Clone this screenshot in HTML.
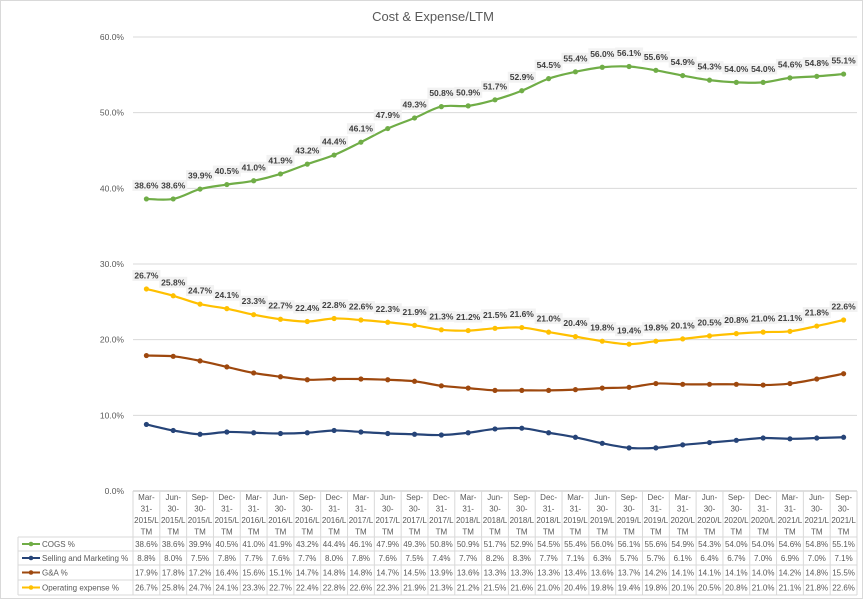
<!DOCTYPE html>
<html><head><meta charset="utf-8"><style>
body{margin:0;background:#fff;font-family:"Liberation Sans",Arial,sans-serif}
svg{display:block}
</style></head><body>
<svg id="chart" width="867" height="600" viewBox="0 0 867 600" xmlns="http://www.w3.org/2000/svg">
<rect x="0.5" y="0.5" width="862" height="598" fill="#fff" stroke="#d9d9d9"/>
<text x="433" y="21" text-anchor="middle" font-size="13" fill="#595959">Cost &amp; Expense/LTM</text>
<g id="grid"></g><g id="table"></g><g id="series"></g><g id="labels"></g>
</svg>
<script>
const categories=["Mar-31-2015","Jun-30-2015","Sep-30-2015","Dec-31-2015","Mar-31-2016","Jun-30-2016","Sep-30-2016","Dec-31-2016","Mar-31-2017","Jun-30-2017","Sep-30-2017","Dec-31-2017","Mar-31-2018","Jun-30-2018","Sep-30-2018","Dec-31-2018","Mar-31-2019","Jun-30-2019","Sep-30-2019","Dec-31-2019","Mar-31-2020","Jun-30-2020","Sep-30-2020","Dec-31-2020","Mar-31-2021","Jun-30-2021","Sep-30-2021"];
const cogs=[38.6,38.6,39.9,40.5,41.0,41.9,43.2,44.4,46.1,47.9,49.3,50.8,50.9,51.7,52.9,54.5,55.4,56.0,56.1,55.6,54.9,54.3,54.0,54.0,54.6,54.8,55.1];
const sm=[8.8,8.0,7.5,7.8,7.7,7.6,7.7,8.0,7.8,7.6,7.5,7.4,7.7,8.2,8.3,7.7,7.1,6.3,5.7,5.7,6.1,6.4,6.7,7.0,6.9,7.0,7.1];
const ga=[17.9,17.8,17.2,16.4,15.6,15.1,14.7,14.8,14.8,14.7,14.5,13.9,13.6,13.3,13.3,13.3,13.4,13.6,13.7,14.2,14.1,14.1,14.1,14.0,14.2,14.8,15.5];
const opex=[26.7,25.8,24.7,24.1,23.3,22.7,22.4,22.8,22.6,22.3,21.9,21.3,21.2,21.5,21.6,21.0,20.4,19.8,19.4,19.8,20.1,20.5,20.8,21.0,21.1,21.8,22.6];
const yTicks=[0,10,20,30,40,50,60];
const seriesNames=["COGS %","Selling and Marketing %","G&A %","Operating expense %"];

const NS="http://www.w3.org/2000/svg";
const X0=133,X1=857,Y0=491,Y60=37;
const cw=(X1-X0)/categories.length;
const xs=i=>X0+cw*(i+0.5);
const ys=v=>Y0-(v/60)*(Y0-Y60);
function mk(p,t,a){const e=document.createElementNS(NS,t);for(const k in a)e.setAttribute(k,a[k]);p.appendChild(e);return e;}
const grid=document.getElementById('grid');
yTicks.forEach(t=>{
 const l=mk(grid,'line',{x1:X0,x2:X1,y1:ys(t),y2:ys(t),stroke:t===0?'#bfbfbf':'#d9d9d9'});
 
 
 const tx=mk(grid,'text',{x:124,y:ys(t)+3,'text-anchor':'end','font-size':'8.5',fill:'#595959'});
 tx.textContent=t.toFixed(1)+'%';
 
 
});
const series=[{d:cogs,c:'#70AD47',lab:true},{d:sm,c:'#264478'},{d:ga,c:'#9E480E'},{d:opex,c:'#FFC000',lab:true}];
const sg=document.getElementById('series'),lg=document.getElementById('labels');
function smooth(pts){let d='M'+pts[0][0]+','+pts[0][1];for(let i=0;i<pts.length-1;i++){const p0=pts[i-1]||pts[i],p1=pts[i],p2=pts[i+1],p3=pts[i+2]||p2;const t=1/6;d+=' C'+(p1[0]+(p2[0]-p0[0])*t)+','+(p1[1]+(p2[1]-p0[1])*t)+' '+(p2[0]-(p3[0]-p1[0])*t)+','+(p2[1]-(p3[1]-p1[1])*t)+' '+p2[0]+','+p2[1];}return d;}
series.forEach((s,si)=>{
 const pts=s.d.map((v,i)=>[xs(i),ys(v)]);
 const p=mk(sg,'path',{d:smooth(pts),fill:'none',stroke:s.c,'stroke-width':2.2});
 
 
 pts.forEach((q,i)=>{
  const c=mk(sg,'circle',{cx:q[0],cy:q[1],r:2.6,fill:s.c});
  
  
  if(s.lab){
   const txt=s.d[i].toFixed(1)+'%';
   mk(lg,'rect',{x:q[0]-14,y:q[1]-19,width:28,height:11,fill:'#f2f2f2'});
   const t=mk(lg,'text',{x:q[0],y:q[1]-10.5,'text-anchor':'middle','font-size':'8.5','font-weight':'bold',fill:'#404040'});
   t.textContent=txt;
   
   
  }
 });
});
// data table
const tb=document.getElementById('table');
const rowY=[537,551,565,580,595];
const hdrTop=491;
mk(tb,'line',{x1:X0,x2:X0,y1:hdrTop,y2:rowY[4],stroke:'#d9d9d9'});
for(let i=0;i<=categories.length;i++){mk(tb,'line',{x1:X0+cw*i,x2:X0+cw*i,y1:hdrTop,y2:rowY[4],stroke:'#d9d9d9'});}
rowY.forEach(y=>mk(tb,'line',{x1:18,x2:X1,y1:y,y2:y,stroke:'#d9d9d9'}));
mk(tb,'line',{x1:18,x2:18,y1:rowY[0],y2:rowY[4],stroke:'#d9d9d9'});
categories.forEach((c,i)=>{
 const parts=c.split('-');
 const lines=[parts[0]+'-',parts[1]+'-',parts[2]+'/L','TM'];
 lines.forEach((l,k)=>{
  const t=mk(tb,'text',{x:xs(i),y:500+k*11.5,'text-anchor':'middle','font-size':'8',fill:'#595959'});
  t.textContent=l;
  
  
 });
});
const all=[cogs,sm,ga,opex];
all.forEach((arr,r)=>{
 const cy=(rowY[r]+rowY[r+1])/2+3;
 mk(tb,'line',{x1:22,x2:40,y1:cy-3,y2:cy-3,stroke:series[r].c,'stroke-width':2});
 mk(tb,'circle',{cx:31,cy:cy-3,r:2.3,fill:series[r].c});
 const n=mk(tb,'text',{x:42,y:cy,'font-size':'8',fill:'#595959'});
 n.textContent=seriesNames[r];
 
 
 arr.forEach((v,i)=>{
  const t=mk(tb,'text',{x:xs(i),y:cy,'text-anchor':'middle','font-size':'8',fill:'#595959'});
  t.textContent=v.toFixed(1)+'%';
  
  
 });
});
</script>
</body></html>
